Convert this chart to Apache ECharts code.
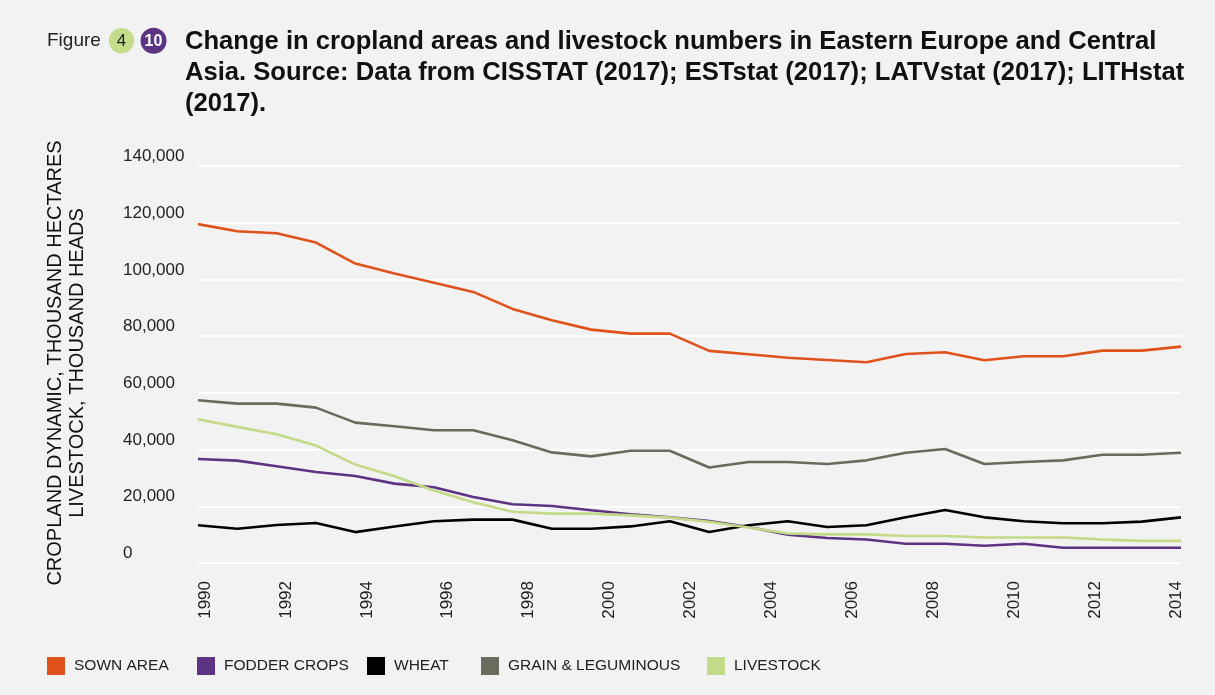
<!DOCTYPE html>
<html>
<head>
<meta charset="utf-8">
<script src="https://cdn.jsdelivr.net/npm/echarts@6/dist/echarts.min.js"></script>
<style>
html,body{margin:0;padding:0;background:#f2f2f2;}
#chart{width:1215px;height:695px;}
</style>
</head>
<body>
<div id="chart"></div>
<script>
// Data points (26 equally spaced points as drawn in the source)
const pointCategories = ['1990','1991','1992','1993','1994','1995','1996','1997','1998','1999','2000','2001','2002','2003','2004','2005','2006','2007','2008','2009','2010','2011','2012','2013','2014','2015'];
const xTickLabels = [1990,1992,1994,1996,1998,2000,2002,2004,2006,2008,2010,2012,2014];
const yTicks = [0,20000,40000,60000,80000,100000,120000,140000];

const sownArea = [119500,117000,116300,113000,105600,102100,98800,95600,89600,85600,82300,80900,80900,74800,73600,72400,71600,70800,73700,74300,71500,72900,72900,74900,74900,76300];
const fodderCrops = [36700,36100,34100,32100,30700,28000,26700,23300,20700,20100,18600,17200,16100,14800,12700,10000,8800,8300,6800,6800,6100,6800,5400,5400,5400,5400];
const wheat = [13300,12100,13400,14100,10900,12900,14700,15300,15300,12100,12100,12900,14700,10900,13300,14700,12700,13300,16100,18700,16100,14700,14000,14000,14600,16100];
const grainLeguminous = [57400,56200,56200,54800,49500,48200,46800,46800,43300,39000,37600,39600,39600,33700,35600,35600,34900,36200,38900,40200,34900,35600,36200,38200,38200,38900];
const livestock = [50700,48000,45400,41400,34700,30600,25600,21400,18100,17400,17400,16800,16000,14500,12500,10400,10100,10100,9500,9500,9000,9000,9000,8300,7800,7800];

const seriesNames = ['SOWN AREA','FODDER CROPS','WHEAT','GRAIN & LEGUMINOUS','LIVESTOCK'];
const seriesColors = ['#e0521b','#5d3384','#000000','#686c5d','#c3da88'];
const seriesData = [sownArea, fodderCrops, wheat, grainLeguminous, livestock];
const legendLefts = [47, 197, 367, 481, 707];

const FONT = '"Liberation Sans", Arial, Helvetica, sans-serif';

const chart = echarts.init(document.getElementById('chart'), null, {renderer:'canvas'});

const option = {
  backgroundColor: '#f2f2f2',
  animation: false,
  textStyle: {fontFamily: FONT},
  title: {
    text: 'Change in cropland areas and livestock numbers in Eastern Europe and Central\nAsia. Source: Data from CISSTAT (2017); ESTstat (2017); LATVstat (2017); LITHstat\n(2017).',
    left: 185, top: 26, padding: 0,
    textStyle: {fontFamily: FONT, fontSize: 25.6, fontWeight: 'bold', color: '#111', lineHeight: 31}
  },
  graphic: [
    {type:'text', x: 47, y: 41, style:{text:'Figure', font:'19px ' + FONT, fill:'#222', verticalAlign:'middle'}},
    {type:'circle', shape:{cx:121.5, cy:40.7, r:12.7}, style:{fill:'#c5dc8b'}},
    {type:'text', x:121.5, y:41.5, style:{text:'4', font:'17px ' + FONT, fill:'#222', align:'center', verticalAlign:'middle'}},
    {type:'circle', shape:{cx:153.5, cy:40.7, r:13}, style:{fill:'#5d3384'}},
    {type:'text', x:153.5, y:41.5, style:{text:'10', font:'bold 16px ' + FONT, fill:'#fff', align:'center', verticalAlign:'middle'}},
    {type:'text', x:66, y:363, rotation: Math.PI/2,
     style:{text:'CROPLAND DYNAMIC, THOUSAND HECTARES\nLIVESTOCK, THOUSAND HEADS', font:'20px ' + FONT, fill:'#111', align:'center', verticalAlign:'middle', lineHeight:22}}
  ],
  legend: seriesNames.map((n, i) => ({
    data: [n], left: legendLefts[i], top: 657, icon: 'rect', itemWidth: 18, itemHeight: 18,
    itemGap: 0, padding: 0,
    textStyle: {fontFamily: FONT, fontSize: 15.5, color: '#222', padding:[2,0,0,4]}
  })),
  grid: {left: 198, right: 34, top: 166, bottom: 132, containLabel: false},
  xAxis: [
    {type:'category', data: pointCategories, boundaryGap:false, show:false},
    {type:'value', position:'bottom', min:1989.827, max:2014.124,
     axisLine:{show:false}, axisTick:{show:false}, splitLine:{show:false},
     axisLabel:{customValues: xTickLabels, rotate:90, margin:18, fontSize:17, color:'#222', fontFamily: FONT,
       formatter: v => String(v)}}
  ],
  yAxis: {
    type:'value', min:0, max:140000, interval:20000,
    axisLine:{show:false}, axisTick:{show:false},
    splitLine:{lineStyle:{color:'#ffffff', width:2}},
    axisLabel:{align:'left', margin:75, fontSize:17, color:'#222', fontFamily: FONT,
      verticalAlign:'bottom', padding:[0,0,1,0]}
  },
  series: seriesNames.map((n, i) => ({
    name: n, type:'line', xAxisIndex:0, data: seriesData[i], symbol:'none',
    lineStyle:{color: seriesColors[i], width:2.6}, itemStyle:{color: seriesColors[i]}
  }))
};
chart.setOption(option);
</script>
</body>
</html>
